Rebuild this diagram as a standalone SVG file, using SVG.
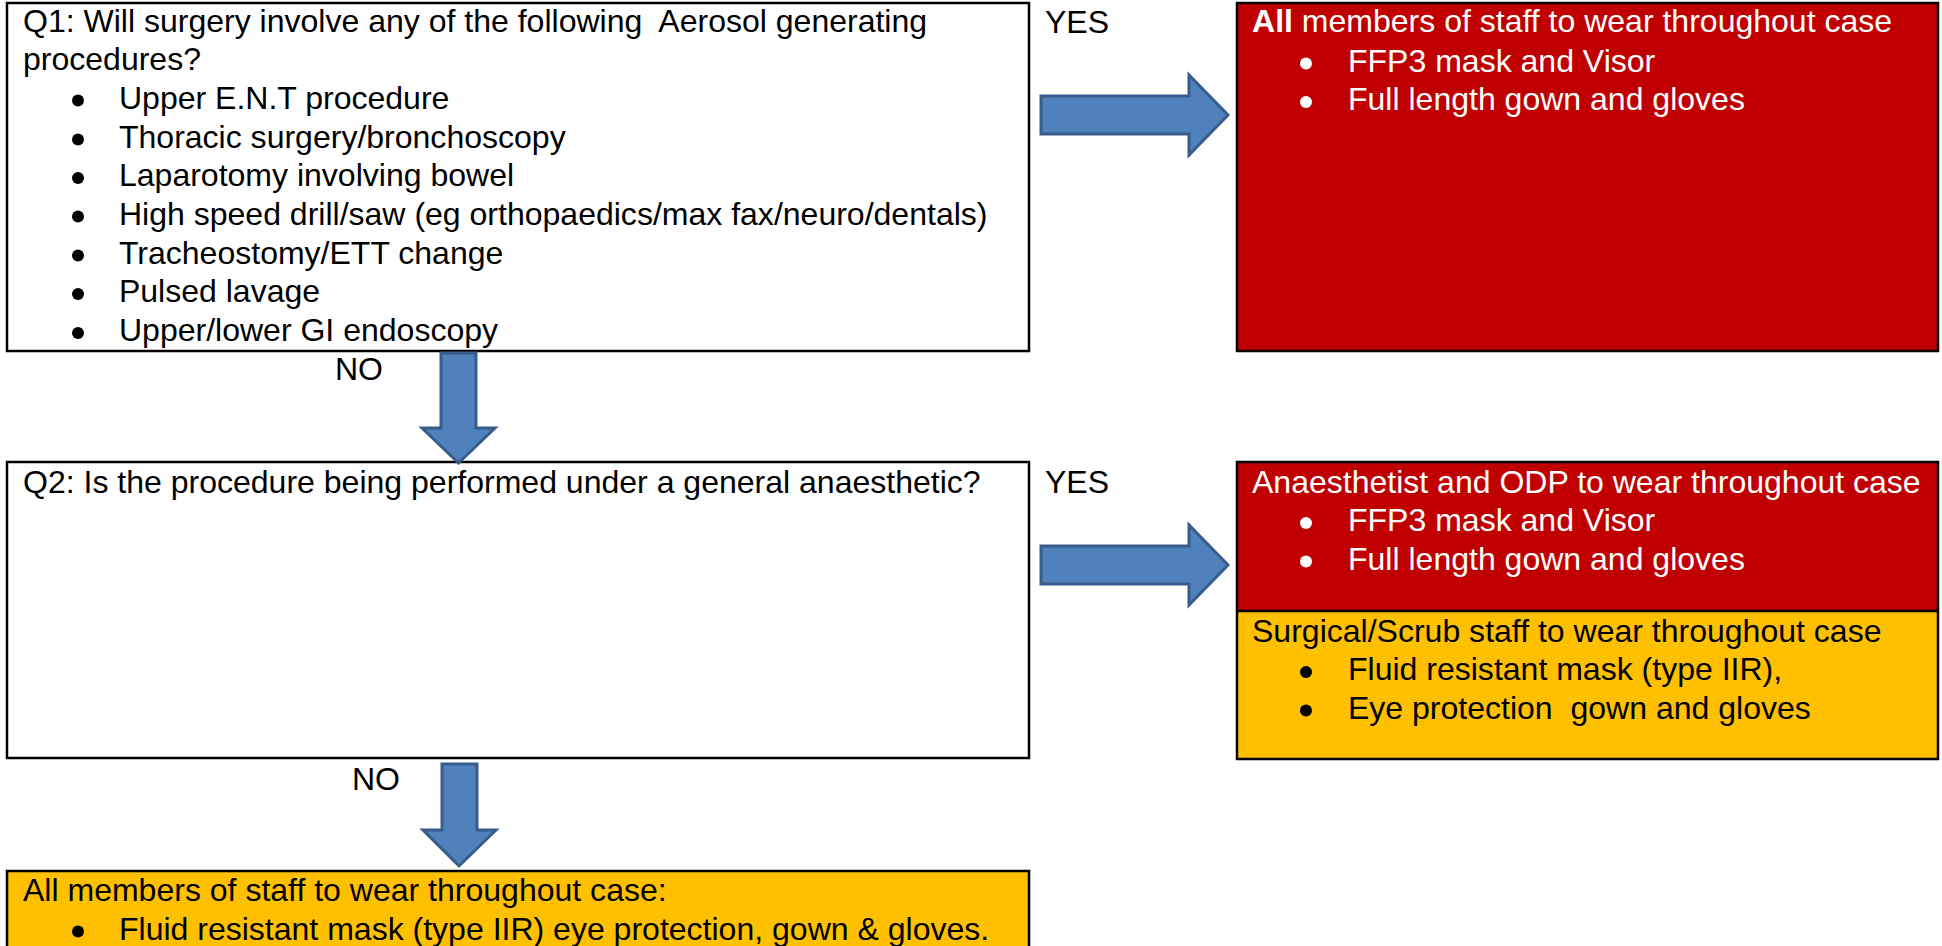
<svg xmlns="http://www.w3.org/2000/svg" width="1942" height="946" viewBox="0 0 1942 946" xml:space="preserve">
<style>
text{font-family:"Liberation Sans",Arial,sans-serif;font-size:30.5px;fill:#000;white-space:pre}
.w{fill:#fff}
.box{stroke:#000;stroke-width:2.5}
.arr{fill:#4F81BD;stroke:#385D8A;stroke-width:3;stroke-linejoin:miter}
.bk{fill:#000}
.bw{fill:#fff}
</style>
<rect width="1942" height="946" fill="#fff"/>
<g id="q1">
<rect class="box" x="7" y="3" width="1022" height="348" fill="#fff"/>
<g class="bk">
<circle cx="78" cy="100.5" r="6"/><circle cx="78" cy="139.5" r="6"/><circle cx="78" cy="178" r="6"/><circle cx="78" cy="216.5" r="6"/><circle cx="78" cy="255.5" r="6"/><circle cx="78" cy="294" r="6"/><circle cx="78" cy="333" r="6"/>
</g>
<g transform="scale(1.05 1)">
<text x="21.9" y="32">Q1: Will surgery involve any of the following  Aerosol generating</text>
<text x="21.9" y="70.5">procedures?</text>
<text x="113.3" y="109">Upper E.N.T procedure</text>
<text x="113.3" y="148">Thoracic surgery/bronchoscopy</text>
<text x="113.3" y="186.5">Laparotomy involving bowel</text>
<text x="113.3" y="225">High speed drill/saw (eg orthopaedics/max fax/neuro/dentals)</text>
<text x="113.3" y="264">Tracheostomy/ETT change</text>
<text x="113.3" y="302.5">Pulsed lavage</text>
<text x="113.3" y="341.5">Upper/lower GI endoscopy</text>
</g>
</g>
<g id="a1">
<rect class="box" x="1237" y="3" width="701" height="348" fill="#C00000"/>
<g class="bw"><circle cx="1306" cy="63.5" r="6"/><circle cx="1306" cy="102" r="6"/></g>
<g transform="scale(1.05 1)">
<text class="w" x="1192.4" y="32"><tspan font-weight="bold">All</tspan> members of staff to wear throughout case</text>
<text class="w" x="1283.8" y="72">FFP3 mask and Visor</text>
<text class="w" x="1283.8" y="110.5">Full length gown and gloves</text>
</g>
</g>
<g id="q2">
<rect class="box" x="7" y="462" width="1022" height="296" fill="#fff"/>
<text transform="scale(1.05 1)" x="21.9" y="493">Q2: Is the procedure being performed under a general anaesthetic?</text>
</g>
<g id="a2">
<rect x="1237" y="462" width="701" height="149" fill="#C00000"/>
<rect x="1237" y="611" width="701" height="148" fill="#FFC000"/>
<line x1="1237" y1="611" x2="1938" y2="611" stroke="#000" stroke-width="2.5"/>
<rect class="box" x="1237" y="462" width="701" height="297" fill="none"/>
<g class="bw"><circle cx="1306" cy="523" r="6"/><circle cx="1306" cy="561.5" r="6"/></g>
<g class="bk"><circle cx="1306" cy="672" r="6"/><circle cx="1306" cy="710.5" r="6"/></g>
<g transform="scale(1.05 1)">
<text class="w" x="1192.4" y="493">Anaesthetist and ODP to wear throughout case</text>
<text class="w" x="1283.8" y="531.5">FFP3 mask and Visor</text>
<text class="w" x="1283.8" y="570">Full length gown and gloves</text>
<text x="1192.4" y="642">Surgical/Scrub staff to wear throughout case</text>
<text x="1283.8" y="680.5">Fluid resistant mask (type IIR),</text>
<text x="1283.8" y="719">Eye protection  gown and gloves</text>
</g>
</g>
<g id="a3">
<rect class="box" x="7" y="871" width="1022" height="100" fill="#FFC000"/>
<circle class="bk" cx="78" cy="931.5" r="6"/>
<g transform="scale(1.05 1)">
<text x="21.9" y="901">All members of staff to wear throughout case:</text>
<text x="113.3" y="940">Fluid resistant mask (type IIR) eye protection, gown &amp; gloves.</text>
</g>
</g>
<g id="connectors">
<polygon class="arr" points="1041,96 1189,96 1189,75 1228,115 1189,155 1189,134 1041,134"/>
<polygon class="arr" points="1041,546 1189,546 1189,525 1228,565 1189,605 1189,584 1041,584"/>
<polygon class="arr" points="441,353 476,353 476,428 495,428 458.5,463 422,428 441,428"/>
<polygon class="arr" points="442,764 477,764 477,830 496,830 459,866 423,830 442,830"/>
<g transform="scale(1.05 1)">
<text x="995.2" y="33">YES</text>
<text x="995.2" y="493">YES</text>
<text x="319" y="380">NO</text>
<text x="335.2" y="790">NO</text>
</g>
</g>
</svg>
